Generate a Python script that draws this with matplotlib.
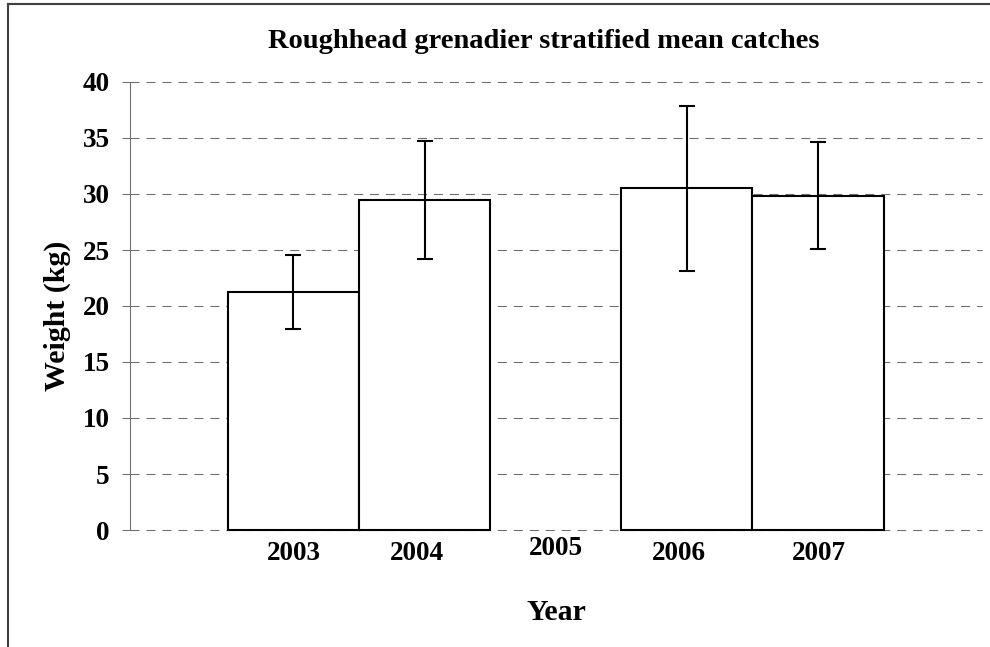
import numpy as np
import matplotlib
matplotlib.use("Agg")
import matplotlib.pyplot as plt
from matplotlib.lines import Line2D

# valeurs
years = ["2003", "2004", "2005", "2006", "2007"]
mean_weight = [21.25, 29.45, np.nan, 30.5, 29.85]
err_weight = [3.27, 5.27, np.nan, 7.4, 4.8]
y_ticks = [0, 5, 10, 15, 20, 25, 30, 35, 40]

plt.rcParams['font.family'] = ['Liberation Serif', 'DejaVu Serif']
plt.rcParams['font.weight'] = 'bold'
plt.rcParams['lines.scale_dashes'] = False

W, H = 990, 647
fig = plt.figure(figsize=(W / 100, H / 100), dpi=100)
ax = fig.add_axes([129.5 / W, 1 - 530 / H, (982 - 129.5) / W, 448 / H])

x = np.arange(len(years))
bars = ax.bar(x, mean_weight, width=1.0, color='white', edgecolor='black', linewidth=1.5, zorder=2)
for b in bars:
    b.set_clip_on(False)
ax.errorbar(x, mean_weight, yerr=err_weight, fmt='none', ecolor='black',
            elinewidth=1.5, capsize=5.8, capthick=1.5, zorder=3)

ax.set_xlim(-1.25, 5.25)
ax.set_ylim(0, 40)
ax.set_yticks(y_ticks)
ax.tick_params(axis='y', direction='out', length=5.6, width=0.75, color='#707070',
               labelsize=19.5, pad=8.5)
ax.set_xticks([])
ax.set_axisbelow(True)
ax.yaxis.grid(True, color='#707070', linewidth=0.8, linestyle=(0, (6.5, 5)))
# la ligne du zéro est sur le bord, on ne la coupe pas
for gl in ax.get_ygridlines():
    gl.set_clip_on(False)

for side in ['top', 'right', 'bottom']:
    ax.spines[side].set_visible(False)
ax.spines['left'].set_color('#707070')
ax.spines['left'].set_linewidth(0.8)

# étiquettes des années, placées un peu à la main comme dans l'original
label_shift = [0.0, -0.06, 0.0, -0.06, 0.01]
label_drop = [-17, -17, -13.5, -17, -17]
for i, year in enumerate(years):
    ax.annotate(year, xy=(x[i] + label_shift[i], 0), xycoords=('data', 'axes fraction'),
                xytext=(0, label_drop[i]), textcoords='offset points',
                ha='center', va='center', fontsize=19.5, fontweight='bold')

fig.text(544 / W, 1 - 48 / H, "Roughhead grenadier stratified mean catches",
         ha='center', va='baseline', fontsize=20.5, fontweight='bold')
fig.text(57 / W, 1 - 316 / H, "Weight (kg)", rotation=90, ha='center', va='center',
         fontsize=21.5, fontweight='bold')
fig.text(556 / W, 1 - 613 / H, "Year", ha='center', va='center', fontsize=21.5, fontweight='bold')

# cadre du graphique (seulement haut et gauche visibles)
fig.add_artist(Line2D([8 / W, 8 / W], [0, 1 - 4 / H], transform=fig.transFigure,
                      color='#404040', linewidth=1.5))
fig.add_artist(Line2D([8 / W, 1], [1 - 4 / H, 1 - 4 / H], transform=fig.transFigure,
                      color='#404040', linewidth=1.5))

fig.savefig("out.png", dpi=100)
